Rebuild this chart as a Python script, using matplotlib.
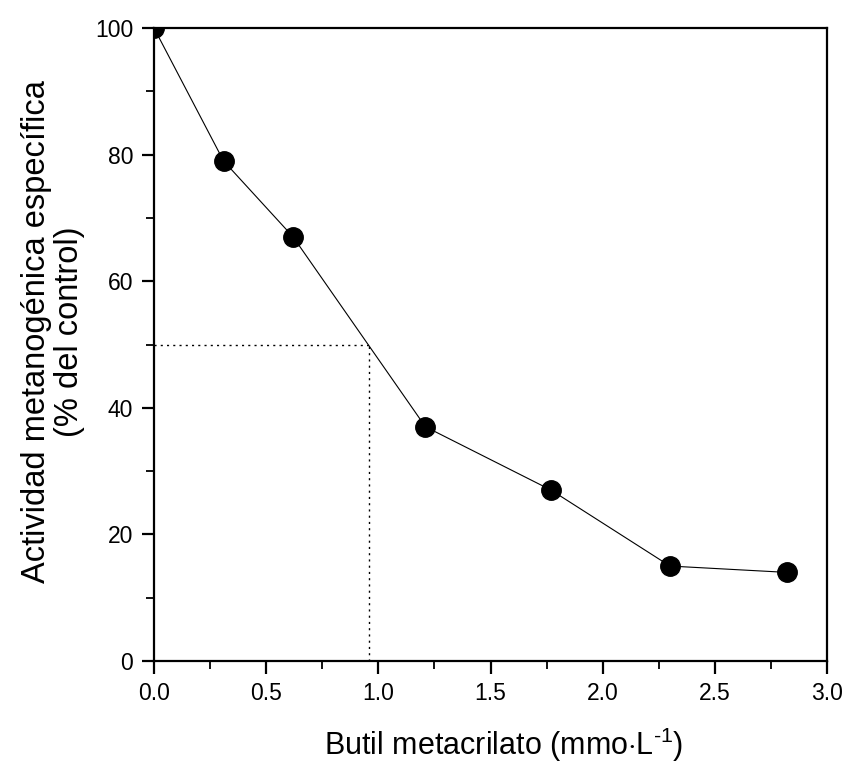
import matplotlib
matplotlib.use("Agg")
import matplotlib.pyplot as plt
from matplotlib.ticker import MultipleLocator, FormatStrFormatter

plt.rcParams['font.family'] = ['Liberation Sans', 'DejaVu Sans']
plt.rcParams['mathtext.fontset'] = 'custom'
plt.rcParams['mathtext.rm'] = 'Liberation Sans'

# Butil metacrilato concentration vs specific methanogenic activity
concentracion = [0.0, 0.31, 0.62, 1.21, 1.77, 2.30, 2.82]
actividad = [100, 79, 67, 37, 27, 15, 14]

# IC50 reference
ic50_x = 0.957
ic50_y = 50

fig = plt.figure(figsize=(8.47, 7.68), dpi=100)
ax = fig.add_axes([154 / 847, 1 - 661 / 768, 673 / 847, 633 / 768])

ax.plot(concentracion, actividad, color="black", linewidth=0.8,
        marker="o", markersize=14, markerfacecolor="black", markeredgecolor="black")

ax.plot([0, ic50_x], [ic50_y, ic50_y], color="black", linestyle=(0, (1.5, 3)), linewidth=1)
ax.plot([ic50_x, ic50_x], [0, ic50_y], color="black", linestyle=(0, (1.5, 3)), linewidth=1)

ax.set_xlim(0, 3.0)
ax.set_ylim(0, 100)
ax.xaxis.set_major_locator(MultipleLocator(0.5))
ax.xaxis.set_minor_locator(MultipleLocator(0.25))
ax.yaxis.set_major_locator(MultipleLocator(20))
ax.yaxis.set_minor_locator(MultipleLocator(10))
ax.xaxis.set_major_formatter(FormatStrFormatter('%.1f'))

for side in ["left", "bottom", "top", "right"]:
    ax.spines[side].set_linewidth(1.6)

ax.tick_params(which="major", direction="out", length=9, width=1.6, labelsize=16.5, pad=6)
ax.tick_params(which="minor", direction="out", length=5.5, width=1.3)
ax.tick_params(which="both", top=False, right=False)

ax.set_xlabel(r"Butil metacrilato (mmo$\cdot$L$^{\text{-1}}$)", fontsize=22)
ax.xaxis.set_label_coords(0.52, -0.102)
ax.set_ylabel("Actividad metanogénica específica\n(% del control)", fontsize=23.5,
              linespacing=1.05)
ax.yaxis.set_label_coords(-0.103, 0.52)

fig.savefig("out.png", dpi=100)
plt.close(fig)
